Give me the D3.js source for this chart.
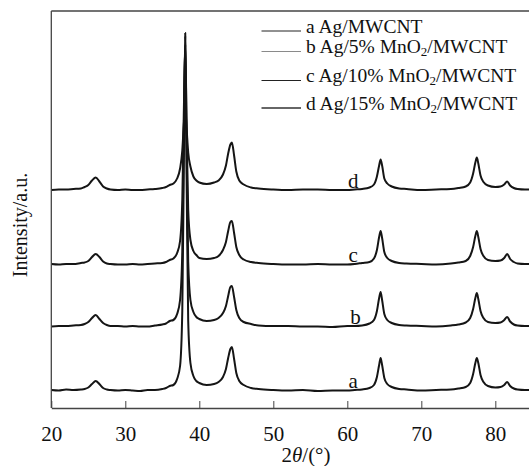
<!DOCTYPE html>
<head>
  <meta charset="utf-8">
  <script src="https://d3js.org/d3.v7.min.js"></script>
  <style>
    body { margin: 0; background: #fff; }
    svg { display: block; }
    text { font-family: "Liberation Serif", "DejaVu Serif", serif; fill: #111; }
  </style>
</head>
<body>
  <svg width="529" height="466"></svg>
  <script>
    // data (intensity in a.u., each curve shifted by its offset)
    var twoTheta = [20, 21, 22, 23, 24, 24.5, 25, 25.5, 26, 26.5, 27, 27.5, 28, 29, 30, 31, 32, 33, 34, 35,
      35.5, 36, 36.5, 37, 37.4, 37.7, 37.9, 38.1, 38.3, 38.5, 38.8, 39.2, 39.6, 40, 41, 42, 42.6, 43.2, 43.6, 43.9,
      44.2, 44.4, 44.7, 45, 45.4, 46, 47, 48, 50, 52, 54, 56, 58, 60, 61, 62, 63, 63.6, 64, 64.3,
      64.5, 64.7, 65, 65.4, 66, 67, 68, 70, 72, 74, 75, 76, 76.6, 77, 77.3, 77.5, 77.7, 78, 78.4, 79,
      80, 80.7, 81.2, 81.6, 82, 82.5, 83, 84, 84.6];

    var seriesA = [1, 0.5, 1.5, 1, 1.5, 2, 3.5, 7, 10, 7, 3, 1.5, 1, 0.5, 1, 0.5, 0, 1, 1, 2,
      3, 5, 6, 12, 25, 80, 220, 358, 200, 70, 28, 15, 10, 8, 6, 7, 9, 14, 22, 33,
      42, 44, 32, 18, 10, 6, 3, 2, 1, 0.5, 1, 0, 0.5, 0.5, 1, 1.5, 3, 6, 14, 26,
      33, 26, 13, 7, 4, 2, 1.5, 0.5, 1, 1.5, 2.5, 4, 8, 17, 28, 33, 28, 16, 9, 5,
      3.5, 4, 6, 9, 5, 2.5, 1.5, 1, 1];
    var seriesB = [0.5, 1, 1, 1.5, 2, 3, 5, 9, 12, 8, 4, 2, 1, 1, 0.5, 1, 0.5, 0.5, 1.5, 2.5,
      3.5, 6, 7, 13, 27, 75, 190, 291, 170, 65, 27, 15, 10, 8, 6, 7, 9, 14, 21, 31,
      40, 41, 30, 17, 9, 5, 3, 1.5, 1, 1, 0.5, 0.5, 0, 1, 1, 1.5, 3.5, 7, 16, 29,
      35, 27, 13, 7, 4, 2, 1.5, 1, 0.5, 1.5, 2.5, 4.5, 9, 18, 29, 34, 28, 16, 9, 5,
      4, 4.5, 7, 10, 5.5, 2.5, 1.5, 1, 1];
    var seriesC = [1, 0.5, 1, 1, 2, 2.5, 4, 8, 11, 8, 3.5, 1.5, 1, 0.5, 0.5, 1, 0.5, 1, 1.5, 2,
      3, 5, 6.5, 12, 24, 65, 150, 220, 130, 55, 25, 14, 10, 7, 6, 7, 9, 15, 23, 34,
      43, 44, 32, 18, 10, 5.5, 3, 2, 1, 0.5, 0.5, 1, 0.5, 0.5, 1, 2, 3, 6.5, 15, 28,
      34, 27, 13, 7, 4, 2, 1.5, 1, 0.5, 1.5, 2.5, 4, 9, 18, 29, 34, 28, 16, 9, 5,
      4, 4.5, 7, 11, 6, 3, 1.5, 1, 1];
    var seriesD = [0.5, 1, 1, 1.5, 2, 3.5, 5.5, 10, 13, 9, 4, 2, 1, 0.5, 1, 0.5, 0.5, 1, 1.5, 2.5,
      3.5, 5.5, 7, 12, 22, 40, 65, 82, 60, 38, 24, 14, 10, 8, 6.5, 8, 10, 16, 25, 37,
      46, 48, 35, 19, 10, 6, 3, 2, 1, 0.5, 1, 1, 0.5, 0.5, 1, 1.5, 3, 6, 14, 25,
      31, 25, 12, 7, 4, 2, 1.5, 0.5, 1, 1.5, 2.5, 4, 8, 17, 28, 33, 27, 15, 8.5, 5,
      3.5, 4, 6, 9, 5, 2.5, 1.5, 1, 1];

    var offsets = [17, 81, 143, 217.5];
    var curveLabels = ["a", "b", "c", "d"];
    var legendNames = [
      ["a Ag/MWCNT"],
      ["b Ag/5% MnO", "2", "/MWCNT"],
      ["c Ag/10% MnO", "2", "/MWCNT"],
      ["d Ag/15% MnO", "2", "/MWCNT"]
    ];
    var xTicks = [20, 30, 40, 50, 60, 70, 80];

    var allSeries = [seriesA, seriesB, seriesC, seriesD];

    // layout
    var plot = { left: 51.3, right: 529, top: 11, bottom: 408 };
    var svg = d3.select("svg");

    var xScale = d3.scaleLinear()
      .domain([20, 84.55])
      .range([plot.left, plot.right]);
    var yScale = d3.scaleLinear()
      .domain([0, 397])
      .range([plot.bottom, plot.top]);

    // curves
    var line = d3.line()
      .x(function(d) { return xScale(d[0]); })
      .y(function(d) { return yScale(d[1]); })
      .curve(d3.curveMonotoneX);

    allSeries.forEach(function(s, i) {
      var pts = twoTheta.map(function(t, j) { return [t, s[j] + offsets[i]]; });
      svg.append("path")
        .datum(pts)
        .attr("fill", "none")
        .attr("stroke", "#151515")
        .attr("stroke-width", 2)
        .attr("stroke-linejoin", "round")
        .attr("d", line);
    });

    // curve labels
    svg.selectAll(".clabel")
      .data(curveLabels)
      .enter().append("text")
      .attr("class", "clabel")
      .attr("x", function(d, i) { return xScale(i == 1 ? 61.1 : 60.8); })
      .attr("y", function(d, i) { return yScale(offsets[i] + 3); })
      .attr("text-anchor", "middle")
      .style("font-size", "21px")
      .text(function(d) { return d; });

    // frame
    var frame = svg.append("g").attr("stroke", "#444").attr("stroke-width", 1.3);
    frame.append("line").attr("x1", plot.left).attr("x2", plot.right).attr("y1", plot.top).attr("y2", plot.top);
    frame.append("line").attr("x1", plot.left).attr("x2", plot.left).attr("y1", plot.top).attr("y2", plot.bottom);

    // x axis
    var xAxis = d3.axisBottom(xScale)
      .tickValues(xTicks)
      .tickSizeInner(-7)
      .tickSizeOuter(0)
      .tickPadding(18)
      .tickFormat(d3.format("d"));
    var gx = svg.append("g")
      .attr("transform", "translate(0," + plot.bottom + ")")
      .call(xAxis);
    gx.select(".domain").attr("stroke", "#444").attr("stroke-width", 1.3);
    gx.selectAll(".tick line").attr("stroke", "#444");
    gx.selectAll(".tick text")
      .style("font-family", "Liberation Serif, serif")
      .style("font-size", "21px")
      .attr("fill", "#111");

    // axis titles
    var xt = svg.append("text")
      .attr("x", 306)
      .attr("y", 462)
      .attr("text-anchor", "middle")
      .style("font-size", "21px");
    xt.append("tspan").text("2");
    xt.append("tspan").style("font-style", "italic").text("θ");
    xt.append("tspan").text("/(°)");

    svg.append("text")
      .attr("transform", "translate(27,225) rotate(-90)")
      .attr("text-anchor", "middle")
      .style("font-size", "20px")
      .text("Intensity/a.u.");

    // legend
    var legendY = [31, 51.5, 80.5, 108];
    var legendColors = ["#222", "#8a8a8a", "#222", "#333"];
    var lg = svg.append("g");
    legendNames.forEach(function(parts, i) {
      lg.append("line")
        .attr("x1", 261.5).attr("x2", 301)
        .attr("y1", legendY[i]).attr("y2", legendY[i])
        .attr("stroke", legendColors[i])
        .attr("stroke-width", i == 3 ? 1.4 : 1);
      var t = lg.append("text")
        .attr("x", 306)
        .attr("y", legendY[i] + 1.5)
        .style("font-size", "19.5px");
      t.append("tspan").text(parts[0]);
      if (parts.length > 1) {
        t.append("tspan").attr("dy", 3).style("font-size", "13px").text(parts[1]);
        t.append("tspan").attr("dy", -3).text(parts[2]);
      }
    });
  </script>
</body>
